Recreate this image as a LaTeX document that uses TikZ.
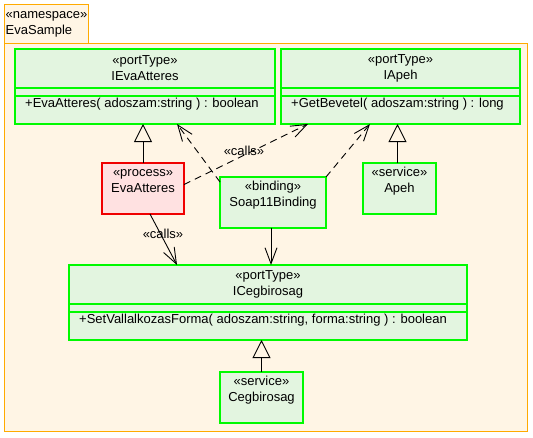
\documentclass[tikz,border=0pt]{standalone}
\usepackage{fontspec}
\setmainfont{Liberation Sans}
\usetikzlibrary{arrows.meta,calc}
\definecolor{pkgfill}{RGB}{255,245,229}
\definecolor{pkgdraw}{RGB}{255,170,0}
\definecolor{portfill}{RGB}{227,245,224}
\definecolor{portdraw}{RGB}{0,250,0}
\definecolor{procfill}{RGB}{255,225,225}
\definecolor{procdraw}{RGB}{240,0,0}
\begin{document}
\begin{tikzpicture}[x=1pt,y=-1pt,
  font=\fontsize{13}{16}\selectfont,
  pkg/.style={rectangle,draw=pkgdraw,fill=pkgfill,line width=1.5pt,
    outer sep=0,inner sep=0},
  port/.style={rectangle,draw=portdraw,fill=portfill,line width=1.2pt,
    outer sep=0,inner sep=0,minimum height=75pt},
  portln/.style={draw=portdraw,line width=1.2pt},
  svc/.style={port,minimum height=51pt},
  proc/.style={rectangle,draw=procdraw,fill=procfill,line width=1.2pt,
    outer sep=0,inner sep=0,minimum height=51pt},
  txt/.style={align=center,inner sep=0},
  gen/.style={line width=0.9pt,-{Triangle[open,length=18pt,width=18pt]}},
  dep/.style={line width=0.9pt,dash pattern=on 7pt off 5pt,
    -{Straight Barb[length=16pt,width=12pt]}},
  call/.style={line width=0.9pt,-{Straight Barb[length=16pt,width=12pt]}}]
  \useasboundingbox (0,0) rectangle (533,437);
  % namespace
  \node[pkg,minimum width=84pt,minimum height=39pt] (tab) at (46.3,23.8) {};
  \node[pkg,minimum width=523.4pt,minimum height=388pt] (pkgbox) at (266,237.3) {};
  \node[txt,align=left,anchor=west] (tabT) at (5.5,24.5) {«namespace»\\EvaSample};
  % port types
  \node[port,minimum width=260pt] (ieva) at (145,86.5) {};
  \draw[portln] ($(ieva.north west)+(0,39)$) -- ++(260,0) ++(0,8) -- ++(-260,0);
  \node[txt] (ievaT) at (145,68.5) {«portType»\\IEvaAtteres};
  \node[txt,anchor=west] (ievaO) at (25,104.5) {+EvaAtteres( adoszam:string ) : boolean};
  \node[port,minimum width=239pt] (iapeh) at (400.5,86.5) {};
  \draw[portln] ($(iapeh.north west)+(0,39)$) -- ++(239,0) ++(0,8) -- ++(-239,0);
  \node[txt] (iapehT) at (400.5,68.5) {«portType»\\IApeh};
  \node[txt,anchor=west] (iapehO) at (291,104.5) {+GetBevetel( adoszam:string ) : long};
  \node[port,minimum width=398pt] (iceg) at (268,302.5) {};
  \draw[portln] ($(iceg.north west)+(0,39)$) -- ++(398,0) ++(0,8) -- ++(-398,0);
  \node[txt] (icegT) at (268,284.5) {«portType»\\ICegbirosag};
  \node[txt,anchor=west] (icegO) at (79,320.5) {+SetVallalkozasForma( adoszam:string, forma:string ) : boolean};
  % process, binding, services
  \node[proc,minimum width=82pt] (eva) at (143,188.5) {};
  \node[txt] (evaT) at (143,181) {«process»\\EvaAtteres};
  \node[svc,minimum width=106pt] (bind) at (273,202.5) {};
  \node[txt] (bindT) at (273,195) {«binding»\\Soap11Binding};
  \node[svc,minimum width=73pt] (apeh) at (399.5,188.5) {};
  \node[txt] (apehT) at (399.5,181) {«service»\\Apeh};
  \node[svc,minimum width=83pt] (ceg) at (261.5,397.5) {};
  \node[txt] (cegT) at (261.5,390) {«service»\\Cegbirosag};
  % connectors
  \draw[gen] (eva.north) -- (eva.north |- ieva.south);
  \draw[gen] ([xshift=-2pt]apeh.north) -- ([xshift=-2pt]apeh.north |- iapeh.south);
  \draw[gen] (ceg.north) -- (ceg.north |- iceg.south);
  \draw[dep] ([yshift=-5pt]bind.north west) -- ($(ieva.south west)+(162,0)$);
  \draw[dep] (bind.north east) -- ($(iapeh.south west)+(89,0)$);
  \draw[dep] ([yshift=4pt]eva.east) -- ($(iapeh.south west)+(27,0)$);
  \draw[call] ($(eva.south west)+(48,0)$) -- ($(iceg.north west)+(108,0)$);
  \draw[call] ([xshift=-2pt]bind.south) -- ([xshift=-2pt]bind.south |- iceg.north);
  \node[txt] (callsA) at (244,151) {«calls»};
  \node[txt] (callsB) at (163,234) {«calls»};
\end{tikzpicture}
\end{document}
